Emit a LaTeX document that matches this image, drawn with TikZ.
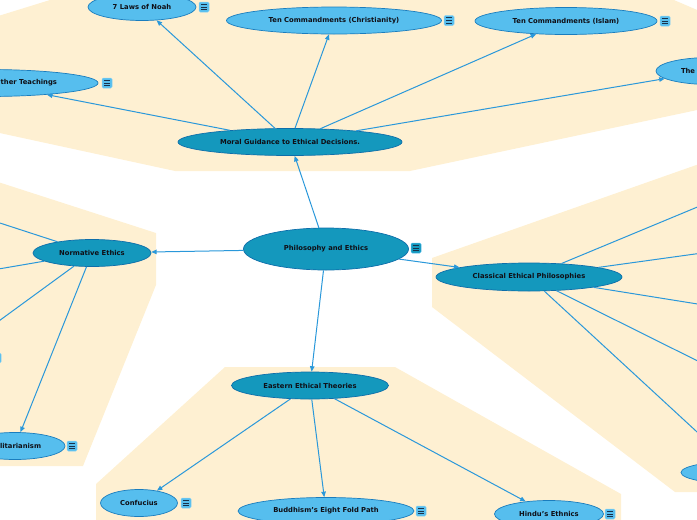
\documentclass[tikz,border=0pt]{standalone}
\usepackage{fontspec}
\setmainfont{DejaVu Sans}
\usetikzlibrary{shapes.geometric,arrows.meta}
\definecolor{cream}{RGB}{254,240,210}
\definecolor{darkf}{RGB}{20,152,189}
\definecolor{darkb}{RGB}{14,110,170}
\definecolor{lightf}{RGB}{86,190,238}
\definecolor{lightb}{RGB}{26,125,190}
\definecolor{edgec}{RGB}{42,152,218}
\definecolor{txt}{RGB}{15,15,22}
\definecolor{iconl}{RGB}{25,50,75}
\tikzset{
  region/.style={fill=cream, draw=none},
  base/.style={ellipse, inner sep=0pt, line width=0.7pt, text=txt,
    font=\bfseries\fontsize{6.8}{8}\selectfont},
  darknode/.style={base, draw=darkb, fill=darkf},
  lightnode/.style={base, draw=lightb, fill=lightf},
  iconbox/.style={rectangle, rounded corners=1.3pt, minimum size=10pt, inner sep=0pt,
    draw=lightf!70!white, line width=0.5pt, fill=lightf,
    path picture={
      \foreach \dy in {2.6,0,-2.6}{
        \draw[iconl, line width=0.9pt] ([xshift=-3pt,yshift=\dy pt]path picture bounding box.center) -- ++(6pt,0);}
    }},
  darkicon/.style={iconbox, fill=darkf, draw=lightf},
  link/.style={draw=edgec, line width=1pt, -{Triangle[length=5.5pt,width=4.5pt]}},
}
\begin{document}
\begin{tikzpicture}[x=1pt,y=-1pt]
\useasboundingbox (0,0) rectangle (697,520);
% background regions
\fill[region] (-5,17) -- (50,0) -- (674,0) -- (702,12) -- (702,109) -- (410,171) -- (175,171) -- (-5,132) -- cycle;
\fill[region] (-5,181) -- (156,233) -- (156,285) -- (83,466) -- (-5,466) -- cycle;
\fill[region] (225,367) -- (395,367) -- (621,494) -- (621,525) -- (96,525) -- (96,484) -- cycle;
\fill[region] (432,258) -- (702,163) -- (702,492) -- (675,492) -- (432,307) -- cycle;

% nodes
\node[darknode, minimum width=165pt, minimum height=42pt] (root) at (326,249) {Philosophy and Ethics};
\node[darkicon] (rooti) at (416,248) {};

\node[darknode, minimum width=224pt, minimum height=27pt] (moral) at (290,142) {Moral Guidance to Ethical Decisions.};
\node[lightnode, minimum width=108pt, minimum height=27pt] (noah) at (142,7) {7 Laws of Noah};
\node[iconbox] (noahi) at (204,7) {};
\node[lightnode, minimum width=215pt, minimum height=27pt] (christ) at (334,20.5) {Ten Commandments (Christianity)};
\node[iconbox] (christi) at (449,20.5) {};
\node[lightnode, minimum width=182pt, minimum height=27pt] (islam) at (566,21) {Ten Commandments (Islam)};
\node[iconbox] (islami) at (665,21) {};
\node[lightnode, minimum width=108pt, minimum height=27pt] (the) at (710,71) {\makebox[58pt][l]{The}};
\node[lightnode, minimum width=222pt, minimum height=27pt] (other) at (-13,83) {\makebox[140pt][r]{ther Teachings}};
\node[iconbox] (otheri) at (107,83) {};

\node[darknode, minimum width=118pt, minimum height=27pt] (norm) at (92,253) {Normative Ethics};
\node[lightnode, minimum width=100pt, minimum height=27pt] (util) at (15,446) {Utilitarianism};
\node[iconbox] (utili) at (72,446) {};
\node[iconbox] (lefti) at (-4,358) {};
\coordinate (nl1) at (-60,203.5);
\coordinate (nl2) at (-60,279);
\coordinate (nl3) at (-60,364);

\node[darknode, minimum width=186pt, minimum height=28pt] (class) at (529,277) {Classical Ethical Philosophies};
\coordinate (cr1) at (760,181);
\coordinate (cr2) at (760,245);
\coordinate (cr3) at (760,314);
\coordinate (cr4) at (760,392);
\node[lightnode, minimum width=120pt, minimum height=23pt] (br) at (741,472.5) {};

\node[darknode, minimum width=157pt, minimum height=27pt] (east) at (310,385.5) {Eastern Ethical Theories};
\node[lightnode, minimum width=77pt, minimum height=27pt] (conf) at (139,503) {Confucius};
\node[iconbox] (confi) at (186,503) {};
\node[lightnode, minimum width=176pt, minimum height=27pt] (budd) at (326,511) {Buddhism's Eight Fold Path};
\node[iconbox] (buddi) at (421,511) {};
\node[lightnode, minimum width=109pt, minimum height=27pt] (hindu) at (549,514) {Hindu's Ethnics};
\node[iconbox] (hindui) at (610,514) {};

% connectors
\draw[link] (root) -- (moral);
\draw[link] (root) -- (norm);
\draw[link] (root) -- (class);
\draw[link] (root) -- (east);

\draw[link] (moral) -- (noah);
\draw[link] (moral) -- (christ);
\draw[link] (moral) -- (islam);
\draw[link] (moral) -- (the);
\draw[link] (moral) -- (other);

\draw[link] (norm) -- (nl1);
\draw[link] (norm) -- (nl2);
\draw[link] (norm) -- (nl3);
\draw[link] (norm) -- (util);

\draw[link] (class) -- (cr1);
\draw[link] (class) -- (cr2);
\draw[link] (class) -- (cr3);
\draw[link] (class) -- (cr4);
\draw[link] (class) -- (br);

\draw[link] (east) -- (conf);
\draw[link] (east) -- (budd);
\draw[link] (east) -- (hindu);
\end{tikzpicture}
\end{document}
